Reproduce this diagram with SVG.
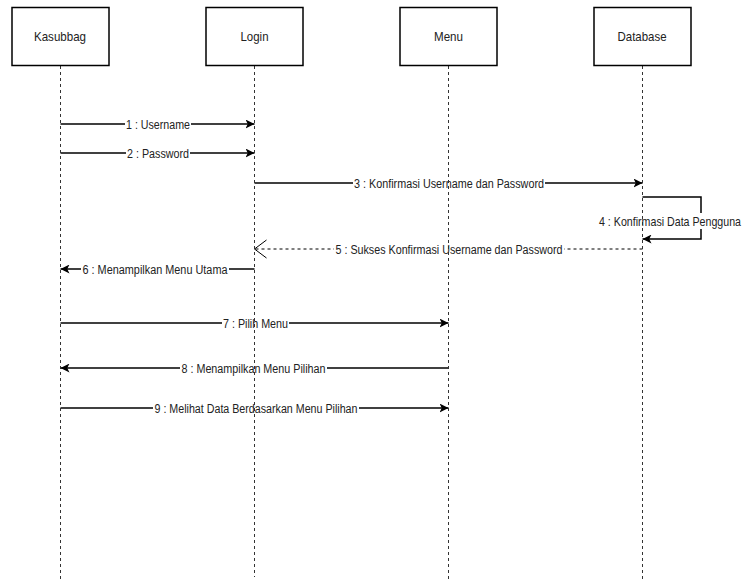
<svg xmlns="http://www.w3.org/2000/svg" width="749" height="582" viewBox="0 0 749 582">
  <style>
    .box { fill: #ffffff; stroke: #000000; stroke-width: 1.5; }
    .life { stroke: #333333; stroke-width: 1; stroke-dasharray: 3 3; fill: none; }
    .head { font-family: "Liberation Sans", Arial, sans-serif; font-size: 13px; fill: #222222; text-anchor: middle; }
    .msg { stroke: #000000; stroke-width: 1.5; fill: none; }
    .ret { stroke: #000000; stroke-width: 1; fill: none; stroke-dasharray: 3 3; }
    .lbl { font-family: "Liberation Sans", Arial, sans-serif; font-size: 12.5px; fill: #222222; text-anchor: middle; }
    .bg { fill: #ffffff; }
  </style>
  <defs>
    <marker id="classic" viewBox="0 0 10 10" refX="10" refY="5" markerWidth="9" markerHeight="9" markerUnits="userSpaceOnUse" orient="auto">
      <path d="M0,0 L10,5 L0,10 L2.5,5 Z" fill="#000000"/>
    </marker>
    <marker id="open" viewBox="0 0 13 20" refX="12" refY="10" markerWidth="13" markerHeight="20" markerUnits="userSpaceOnUse" orient="auto">
      <path d="M0,1 L12,10 L0,19" fill="none" stroke="#000000" stroke-width="1"/>
    </marker>
  </defs>

  <rect width="749" height="582" fill="#ffffff"/>

  <!-- messages -->
  <g id="connectors">
    <g id="m1">
      <line class="msg" x1="60.5" y1="124" x2="254.5" y2="124" marker-end="url(#classic)"/>
      <rect class="bg" x="125" y="116" width="66" height="16"/>
      <text class="lbl" x="158" y="128.5" textLength="64" lengthAdjust="spacingAndGlyphs">1 : Username</text>
    </g>
    <g id="m2">
      <line class="msg" x1="60.5" y1="153" x2="254.5" y2="153" marker-end="url(#classic)"/>
      <rect class="bg" x="126" y="145" width="64" height="16"/>
      <text class="lbl" x="158" y="157.5" textLength="62" lengthAdjust="spacingAndGlyphs">2 : Password</text>
    </g>
    <g id="m3">
      <line class="msg" x1="254.5" y1="183" x2="642.5" y2="183" marker-end="url(#classic)"/>
      <rect class="bg" x="353" y="175" width="192" height="16"/>
      <text class="lbl" x="449" y="187.5" textLength="190" lengthAdjust="spacingAndGlyphs">3 : Konfirmasi Username dan Password</text>
    </g>
    <g id="m4">
      <path class="msg" d="M642.5,197 H701 V239 H642.5" marker-end="url(#classic)"/>
      <rect class="bg" x="598" y="213" width="145" height="16"/>
      <!-- narrowed with a scale so the label stays inside the right edge -->
      <text class="lbl" transform="translate(670,225.5) scale(0.852,1)" x="0" y="0">4 : Konfirmasi Data Pengguna</text>
    </g>
    <g id="m5">
      <line class="ret" x1="642.5" y1="249" x2="254.5" y2="249" marker-end="url(#open)"/>
      <rect class="bg" x="334" y="241" width="230" height="16"/>
      <text class="lbl" x="449" y="253.5" textLength="227" lengthAdjust="spacingAndGlyphs">5 : Sukses Konfirmasi Username dan Password</text>
    </g>
    <g id="m6">
      <line class="msg" x1="254.5" y1="269" x2="60.5" y2="269" marker-end="url(#classic)"/>
      <rect class="bg" x="81" y="261" width="148" height="16"/>
      <text class="lbl" x="155" y="273.5" textLength="145" lengthAdjust="spacingAndGlyphs">6 : Menampilkan Menu Utama</text>
    </g>
    <g id="m7">
      <line class="msg" x1="60.5" y1="323" x2="448.5" y2="323" marker-end="url(#classic)"/>
      <rect class="bg" x="222" y="315" width="67" height="16"/>
      <text class="lbl" x="255.5" y="327.5" textLength="65" lengthAdjust="spacingAndGlyphs">7 : Pilih Menu</text>
    </g>
    <g id="m8">
      <line class="msg" x1="448.5" y1="368" x2="60.5" y2="368" marker-end="url(#classic)"/>
      <rect class="bg" x="180" y="360" width="147" height="16"/>
      <text class="lbl" x="253.5" y="372.5" textLength="144" lengthAdjust="spacingAndGlyphs">8 : Menampilkan Menu Pilihan</text>
    </g>
    <g id="m9">
      <line class="msg" x1="60.5" y1="408" x2="448.5" y2="408" marker-end="url(#classic)"/>
      <rect class="bg" x="153" y="400" width="206" height="16"/>
      <text class="lbl" x="256" y="412.5" textLength="203" lengthAdjust="spacingAndGlyphs">9 : Melihat Data Berdasarkan Menu Pilihan</text>
    </g>
  </g>

  <!-- lifelines -->
  <g id="kasubbag">
    <line class="life" x1="60.5" y1="66" x2="60.5" y2="582"/>
    <rect class="box" x="12" y="7.5" width="97" height="58"/>
    <text class="head" x="60" y="41" textLength="52" lengthAdjust="spacingAndGlyphs">Kasubbag</text>
  </g>
  <g id="login">
    <line class="life" x1="254.5" y1="66" x2="254.5" y2="577"/>
    <rect class="box" x="206" y="7.5" width="97" height="58"/>
    <text class="head" x="254.5" y="41" textLength="28" lengthAdjust="spacingAndGlyphs">Login</text>
  </g>
  <g id="menu">
    <line class="life" x1="448.5" y1="66" x2="448.5" y2="582"/>
    <rect class="box" x="400" y="7.5" width="97" height="58"/>
    <text class="head" x="448.5" y="41" textLength="29" lengthAdjust="spacingAndGlyphs">Menu</text>
  </g>
  <g id="database">
    <line class="life" x1="642.5" y1="66" x2="642.5" y2="582"/>
    <rect class="box" x="594" y="7.5" width="97" height="58"/>
    <text class="head" x="642" y="41" textLength="49" lengthAdjust="spacingAndGlyphs">Database</text>
  </g>
</svg>
